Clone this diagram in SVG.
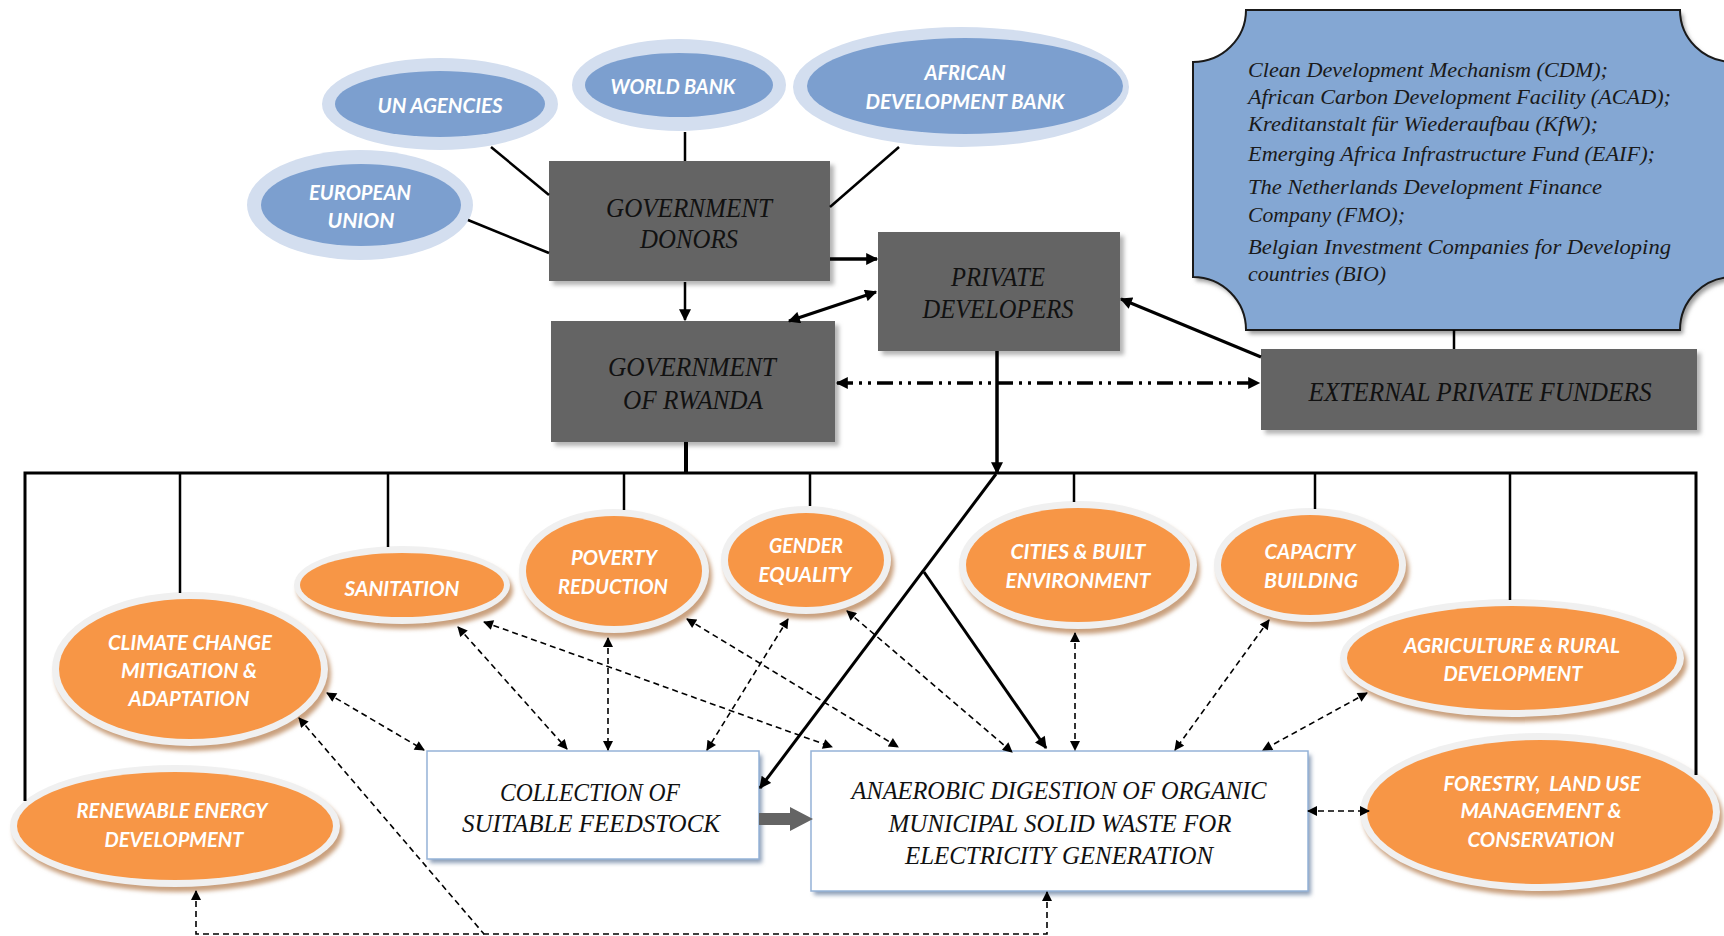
<svg xmlns="http://www.w3.org/2000/svg" width="1724" height="936" viewBox="0 0 1724 936">
  <defs>
    <filter id="soft" x="-10%" y="-10%" width="120%" height="130%">
      <feGaussianBlur stdDeviation="2"/>
    </filter>
    <marker id="ah" viewBox="0 0 10 10" refX="9" refY="5" markerWidth="13" markerHeight="12" markerUnits="userSpaceOnUse" orient="auto-start-reverse">
      <path d="M0,0 L10,5 L0,10 z" fill="#000"/>
    </marker>
    <marker id="ahs" viewBox="0 0 10 10" refX="9" refY="5" markerWidth="12" markerHeight="10" markerUnits="userSpaceOnUse" orient="auto-start-reverse">
      <path d="M0,0 L10,5 L0,10 z" fill="#000"/>
    </marker>
    <style>
      .bring{fill:#D3DEEF}
      .bin{fill:#7C9FCF}
      .osh{fill:#C9A07E;filter:url(#soft)}
      .ring{fill:#F0F0F0}
      .org{fill:#F79646}
      .lbl{font-family:Lato,"Open Sans",sans-serif;font-weight:700;font-style:italic;font-size:20px;fill:#fff;text-anchor:middle}
      .dsh{fill:#B5B5B5;filter:url(#soft)}
      .dark{fill:#646464}
      .btxt{font-family:"Liberation Serif",serif;font-style:italic;font-size:27px;fill:#111;text-anchor:middle}
      .wsh{fill:#8D9FB7;filter:url(#soft)}
      .wbox{fill:#fff;stroke:#95B3D7;stroke-width:1.5}
      .wtxt{font-family:"Liberation Serif",serif;font-style:italic;font-size:25px;fill:#111;text-anchor:middle}
      .psh{fill:#9A9A9A;filter:url(#soft)}
      .plaque{fill:#84A7D3;stroke:#1A1A1A;stroke-width:2}
      .ptxt{font-family:"Liberation Serif",serif;font-style:italic;font-size:21px;fill:#1A1A1A}
      .ln{fill:none;stroke:#000;stroke-width:2.5}
      .thick{stroke-width:3.5}
      .dsh-ln{fill:none;stroke:#000;stroke-width:1.6;stroke-dasharray:6 4}
      .arr{marker-end:url(#ah)}
      .arr2{marker-start:url(#ah);marker-end:url(#ah)}
      .darr2{marker-start:url(#ahs);marker-end:url(#ahs)}
    </style>
  </defs>

  <!-- funding agencies -->
  <g id="un-agencies">
    <ellipse class="bring" cx="440" cy="104" rx="118" ry="46"/>
    <ellipse class="bin" cx="440" cy="104" rx="105" ry="33"/>
    <text class="lbl" x="440" y="113" textLength="125" lengthAdjust="spacingAndGlyphs">UN AGENCIES</text>
  </g>
  <g id="world-bank">
    <ellipse class="bring" cx="679" cy="85" rx="107" ry="46"/>
    <ellipse class="bin" cx="679" cy="85" rx="94" ry="32"/>
    <text class="lbl" x="673" y="94" textLength="125" lengthAdjust="spacingAndGlyphs">WORLD BANK</text>
  </g>
  <g id="african-development-bank">
    <ellipse class="bring" cx="961" cy="87" rx="168" ry="60"/>
    <ellipse class="bin" cx="965" cy="86" rx="158" ry="48"/>
    <text class="lbl" x="965" y="80" textLength="81" lengthAdjust="spacingAndGlyphs">AFRICAN</text>
    <text class="lbl" x="965" y="109" textLength="199" lengthAdjust="spacingAndGlyphs">DEVELOPMENT BANK</text>
  </g>
  <g id="european-union">
    <ellipse class="bring" cx="360" cy="205" rx="113" ry="55"/>
    <ellipse class="bin" cx="361" cy="205" rx="100" ry="41"/>
    <text class="lbl" x="360" y="200" textLength="102" lengthAdjust="spacingAndGlyphs">EUROPEAN</text>
    <text class="lbl" x="361" y="228" textLength="67" lengthAdjust="spacingAndGlyphs">UNION</text>
  </g>

  <!-- external funders list -->
  <g id="funder-list">
    <path class="psh" d="M1249,14 L1683,14 A53,52 0 0 0 1736,66 L1736,281 A53,53 0 0 0 1683,334 L1249,334 A53,53 0 0 0 1196,281 L1196,66 A53,52 0 0 0 1249,14 Z"/>
    <path class="plaque" d="M1246,10 L1680,10 A53,52 0 0 0 1733,62 L1733,277 A53,53 0 0 0 1680,330 L1246,330 A53,53 0 0 0 1193,277 L1193,62 A53,52 0 0 0 1246,10 Z"/>
    <text class="ptxt" x="1248" y="77" textLength="360" lengthAdjust="spacingAndGlyphs">Clean Development Mechanism (CDM);</text>
    <text class="ptxt" x="1248" y="104" textLength="423" lengthAdjust="spacingAndGlyphs">African Carbon Development Facility (ACAD);</text>
    <text class="ptxt" x="1248" y="131" textLength="350" lengthAdjust="spacingAndGlyphs">Kreditanstalt für Wiederaufbau (KfW);</text>
    <text class="ptxt" x="1248" y="161" textLength="407" lengthAdjust="spacingAndGlyphs">Emerging Africa Infrastructure Fund (EAIF);</text>
    <text class="ptxt" x="1248" y="194" textLength="354" lengthAdjust="spacingAndGlyphs">The Netherlands Development Finance</text>
    <text class="ptxt" x="1248" y="222" textLength="157" lengthAdjust="spacingAndGlyphs">Company (FMO);</text>
    <text class="ptxt" x="1248" y="254" textLength="423" lengthAdjust="spacingAndGlyphs">Belgian Investment Companies for Developing</text>
    <text class="ptxt" x="1248" y="281" textLength="138" lengthAdjust="spacingAndGlyphs">countries (BIO)</text>
  </g>

  <!-- actors -->
  <g id="government-donors">
    <rect class="dsh" x="553" y="165" width="281" height="120"/>
    <rect class="dark" x="549" y="161" width="281" height="120"/>
    <text class="btxt" x="689" y="217" textLength="166" lengthAdjust="spacingAndGlyphs">GOVERNMENT</text>
    <text class="btxt" x="689" y="248" textLength="98" lengthAdjust="spacingAndGlyphs">DONORS</text>
  </g>
  <g id="private-developers">
    <rect class="dsh" x="882" y="236" width="242" height="119"/>
    <rect class="dark" x="878" y="232" width="242" height="119"/>
    <text class="btxt" x="998" y="286" textLength="94" lengthAdjust="spacingAndGlyphs">PRIVATE</text>
    <text class="btxt" x="998" y="318" textLength="151" lengthAdjust="spacingAndGlyphs">DEVELOPERS</text>
  </g>
  <g id="government-of-rwanda">
    <rect class="dsh" x="555" y="325" width="284" height="121"/>
    <rect class="dark" x="551" y="321" width="284" height="121"/>
    <text class="btxt" x="692" y="376" textLength="168" lengthAdjust="spacingAndGlyphs">GOVERNMENT</text>
    <text class="btxt" x="693" y="409" textLength="140" lengthAdjust="spacingAndGlyphs">OF RWANDA</text>
  </g>
  <g id="external-private-funders">
    <rect class="dsh" x="1265" y="353" width="436" height="81"/>
    <rect class="dark" x="1261" y="349" width="436" height="81"/>
    <text class="btxt" x="1480" y="401" textLength="343" lengthAdjust="spacingAndGlyphs">EXTERNAL PRIVATE  FUNDERS</text>
  </g>

  <!-- co-benefit areas -->
  <g id="climate-change">
    <ellipse class="osh" cx="193" cy="674" rx="138" ry="77"/>
    <ellipse class="ring" cx="190" cy="669" rx="138" ry="77"/>
    <ellipse class="org" cx="190" cy="669" rx="131" ry="70"/>
    <text class="lbl" x="190" y="650" textLength="164" lengthAdjust="spacingAndGlyphs">CLIMATE CHANGE</text>
    <text class="lbl" x="189" y="678" textLength="136" lengthAdjust="spacingAndGlyphs">MITIGATION &amp;</text>
    <text class="lbl" x="189" y="706" textLength="121" lengthAdjust="spacingAndGlyphs">ADAPTATION</text>
  </g>
  <g id="sanitation">
    <ellipse class="osh" cx="405" cy="590" rx="108" ry="39"/>
    <ellipse class="ring" cx="402" cy="585" rx="108" ry="39"/>
    <ellipse class="org" cx="402" cy="585" rx="102" ry="32"/>
    <text class="lbl" x="402" y="596" textLength="115" lengthAdjust="spacingAndGlyphs">SANITATION</text>
  </g>
  <g id="poverty-reduction">
    <ellipse class="osh" cx="617" cy="576" rx="95" ry="62"/>
    <ellipse class="ring" cx="614" cy="571" rx="95" ry="62"/>
    <ellipse class="org" cx="614" cy="571" rx="88" ry="55"/>
    <text class="lbl" x="614" y="565" textLength="86" lengthAdjust="spacingAndGlyphs">POVERTY</text>
    <text class="lbl" x="613" y="594" textLength="110" lengthAdjust="spacingAndGlyphs">REDUCTION</text>
  </g>
  <g id="gender-equality">
    <ellipse class="osh" cx="809" cy="565" rx="85" ry="54"/>
    <ellipse class="ring" cx="806" cy="560" rx="85" ry="54"/>
    <ellipse class="org" cx="806" cy="560" rx="78" ry="47"/>
    <text class="lbl" x="806" y="553" textLength="74" lengthAdjust="spacingAndGlyphs">GENDER</text>
    <text class="lbl" x="805" y="582" textLength="93" lengthAdjust="spacingAndGlyphs">EQUALITY</text>
  </g>
  <g id="cities-built-environment">
    <ellipse class="osh" cx="1081" cy="570" rx="119" ry="64"/>
    <ellipse class="ring" cx="1078" cy="565" rx="119" ry="64"/>
    <ellipse class="org" cx="1078" cy="565" rx="112" ry="57"/>
    <text class="lbl" x="1078" y="559" textLength="135" lengthAdjust="spacingAndGlyphs">CITIES &amp; BUILT</text>
    <text class="lbl" x="1078" y="588" textLength="145" lengthAdjust="spacingAndGlyphs">ENVIRONMENT</text>
  </g>
  <g id="capacity-building">
    <ellipse class="osh" cx="1313" cy="570" rx="96" ry="57"/>
    <ellipse class="ring" cx="1310" cy="565" rx="96" ry="57"/>
    <ellipse class="org" cx="1310" cy="565" rx="89" ry="50"/>
    <text class="lbl" x="1310" y="559" textLength="91" lengthAdjust="spacingAndGlyphs">CAPACITY</text>
    <text class="lbl" x="1311" y="588" textLength="94" lengthAdjust="spacingAndGlyphs">BUILDING</text>
  </g>
  <g id="agriculture-rural-development">
    <ellipse class="osh" cx="1515" cy="663" rx="172" ry="59"/>
    <ellipse class="ring" cx="1512" cy="658" rx="172" ry="59"/>
    <ellipse class="org" cx="1512" cy="658" rx="165" ry="52"/>
    <text class="lbl" x="1512" y="653" textLength="216" lengthAdjust="spacingAndGlyphs">AGRICULTURE &amp; RURAL</text>
    <text class="lbl" x="1513" y="681" textLength="139" lengthAdjust="spacingAndGlyphs">DEVELOPMENT</text>
  </g>
  <g id="forestry-land-use">
    <ellipse class="osh" cx="1543" cy="817" rx="180" ry="79"/>
    <ellipse class="ring" cx="1540" cy="812" rx="180" ry="79"/>
    <ellipse class="org" cx="1540" cy="812" rx="173" ry="72"/>
    <text class="lbl" x="1542" y="791" textLength="197" lengthAdjust="spacingAndGlyphs" xml:space="preserve">FORESTRY,  LAND USE</text>
    <text class="lbl" x="1541" y="818" textLength="161" lengthAdjust="spacingAndGlyphs">MANAGEMENT &amp;</text>
    <text class="lbl" x="1541" y="847" textLength="147" lengthAdjust="spacingAndGlyphs">CONSERVATION</text>
  </g>
  <g id="renewable-energy">
    <ellipse class="osh" cx="178" cy="831" rx="165" ry="61"/>
    <ellipse class="ring" cx="175" cy="826" rx="165" ry="61"/>
    <ellipse class="org" cx="175" cy="826" rx="158" ry="54"/>
    <text class="lbl" x="172" y="818" textLength="191" lengthAdjust="spacingAndGlyphs">RENEWABLE ENERGY</text>
    <text class="lbl" x="174" y="847" textLength="139" lengthAdjust="spacingAndGlyphs">DEVELOPMENT</text>
  </g>

  <!-- process steps -->
  <g id="feedstock-collection">
    <rect class="wsh" x="430" y="755" width="332" height="108"/>
    <rect class="wbox" x="427" y="751" width="332" height="108"/>
    <text class="wtxt" x="590" y="801" textLength="180" lengthAdjust="spacingAndGlyphs">COLLECTION OF</text>
    <text class="wtxt" x="591" y="832" textLength="258" lengthAdjust="spacingAndGlyphs">SUITABLE FEEDSTOCK</text>
  </g>
  <g id="anaerobic-digestion">
    <rect class="wsh" x="814" y="755" width="497" height="140"/>
    <rect class="wbox" x="811" y="751" width="497" height="140"/>
    <text class="wtxt" x="1059" y="799" textLength="415" lengthAdjust="spacingAndGlyphs">ANAEROBIC DIGESTION OF ORGANIC</text>
    <text class="wtxt" x="1060" y="832" textLength="343" lengthAdjust="spacingAndGlyphs">MUNICIPAL SOLID WASTE FOR</text>
    <text class="wtxt" x="1059" y="864" textLength="308" lengthAdjust="spacingAndGlyphs">ELECTRICITY GENERATION</text>
  </g>

  <!-- connectors -->
  <g id="connectors">
    <!-- donors to government donors -->
    <line class="ln" x1="491" y1="147" x2="549" y2="195"/>
    <line class="ln" x1="685" y1="132" x2="685" y2="161"/>
    <line class="ln" x1="899" y1="147" x2="830" y2="207"/>
    <line class="ln" x1="468" y1="220" x2="549" y2="253"/>
    <!-- flows between actors -->
    <line class="ln thick arr" x1="830" y1="259" x2="877" y2="259"/>
    <line class="ln arr" x1="685" y1="282" x2="685" y2="320"/>
    <line class="ln arr2" x1="789" y1="321" x2="876" y2="292" style="stroke-width:3"/>
    <line class="ln arr" x1="1261" y1="357" x2="1121" y2="299" style="stroke-width:3"/>
    <line class="ln" x1="1454" y1="330" x2="1454" y2="349"/>
    <line class="arr2" x1="837" y1="383" x2="1259" y2="383" style="fill:none;stroke:#000;stroke-width:3.5;stroke-dasharray:16 6 3 6 3 6"/>
    <line class="ln thick arr" x1="997" y1="351" x2="997" y2="473"/>
    <line class="ln arr" x1="996" y1="474" x2="760" y2="788" style="stroke-width:3"/>
    <line class="ln arr" x1="924" y1="572" x2="1046" y2="748" style="stroke-width:3"/>
    <!-- distribution bus -->
    <polyline class="ln" points="25,801 25,473 1696,473 1696,775" style="stroke-width:3"/>
    <line class="ln" x1="686" y1="442" x2="686" y2="473" style="stroke-width:4"/>
    <line class="ln" x1="180" y1="473" x2="180" y2="593"/>
    <line class="ln" x1="388" y1="473" x2="388" y2="547"/>
    <line class="ln" x1="624" y1="473" x2="624" y2="510"/>
    <line class="ln" x1="810" y1="473" x2="810" y2="506"/>
    <line class="ln" x1="1074" y1="473" x2="1074" y2="502"/>
    <line class="ln" x1="1315" y1="473" x2="1315" y2="509"/>
    <line class="ln" x1="1510" y1="473" x2="1510" y2="600"/>
    <!-- feedstock to digestion -->
    <polygon points="759,813 790,813 790,807 813,819 790,831 790,825 759,825" fill="#646464"/>
    <!-- co-benefit links -->
    <line class="dsh-ln darr2" x1="327" y1="693" x2="424" y2="750"/>
    <line class="dsh-ln" x1="299" y1="718" x2="484" y2="934" style="marker-start:url(#ahs)"/>
    <polyline class="dsh-ln darr2" points="196,891 196,934 1047,934 1047,892"/>
    <line class="dsh-ln darr2" x1="458" y1="627" x2="567" y2="749"/>
    <line class="dsh-ln darr2" x1="484" y1="622" x2="832" y2="747"/>
    <line class="dsh-ln darr2" x1="608" y1="638" x2="608" y2="750"/>
    <line class="dsh-ln darr2" x1="687" y1="619" x2="898" y2="747"/>
    <line class="dsh-ln darr2" x1="788" y1="619" x2="707" y2="750"/>
    <line class="dsh-ln darr2" x1="847" y1="611" x2="1012" y2="752"/>
    <line class="dsh-ln darr2" x1="1075" y1="633" x2="1075" y2="750"/>
    <line class="dsh-ln darr2" x1="1269" y1="620" x2="1175" y2="750"/>
    <line class="dsh-ln darr2" x1="1367" y1="693" x2="1263" y2="750"/>
    <line class="dsh-ln darr2" x1="1308" y1="811" x2="1369" y2="811"/>
  </g>
</svg>
